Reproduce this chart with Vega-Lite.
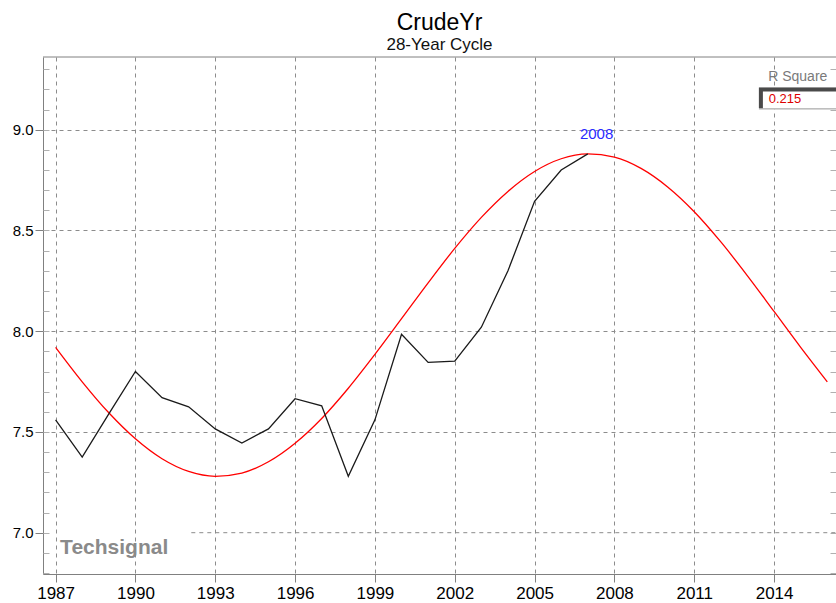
{
  "$schema": "https://vega.github.io/schema/vega-lite/v6.json",
  "width": 793,
  "height": 517,
  "autosize": "none",
  "padding": {"left": 43, "top": 57, "right": 0, "bottom": 29},
  "background": "white",
  "config": {"view": {"stroke": null}, "font": "Liberation Sans"},
  "title": {
    "text": "CrudeYr",
    "subtitle": "28-Year Cycle",
    "anchor": "middle",
    "font": "Liberation Sans",
    "fontSize": 23,
    "fontWeight": "normal",
    "color": "#000000",
    "subtitleFont": "Liberation Sans",
    "subtitleFontSize": 17,
    "subtitleColor": "#111111",
    "offset": 4,
    "subtitlePadding": 2
  },
  "datasets": {
    "actual": [
      {"year": 1987, "value": 7.56},
      {"year": 1988, "value": 7.375},
      {"year": 1989, "value": 7.59},
      {"year": 1990, "value": 7.80},
      {"year": 1991, "value": 7.67},
      {"year": 1992, "value": 7.625},
      {"year": 1993, "value": 7.515},
      {"year": 1994, "value": 7.445},
      {"year": 1995, "value": 7.515},
      {"year": 1996, "value": 7.665},
      {"year": 1997, "value": 7.63},
      {"year": 1998, "value": 7.28},
      {"year": 1999, "value": 7.56},
      {"year": 2000, "value": 7.985},
      {"year": 2001, "value": 7.845},
      {"year": 2002, "value": 7.852},
      {"year": 2003, "value": 8.02},
      {"year": 2004, "value": 8.30},
      {"year": 2005, "value": 8.645},
      {"year": 2006, "value": 8.80},
      {"year": 2007, "value": 8.88}
    ],
    "cycle": [
      {"year": 1987, "value": 7.920},
      {"year": 1988, "value": 7.749},
      {"year": 1989, "value": 7.595},
      {"year": 1990, "value": 7.466},
      {"year": 1991, "value": 7.367},
      {"year": 1992, "value": 7.304},
      {"year": 1993, "value": 7.280},
      {"year": 1994, "value": 7.296},
      {"year": 1995, "value": 7.352},
      {"year": 1996, "value": 7.444},
      {"year": 1997, "value": 7.567},
      {"year": 1998, "value": 7.717},
      {"year": 1999, "value": 7.885},
      {"year": 2000, "value": 8.062},
      {"year": 2001, "value": 8.240},
      {"year": 2002, "value": 8.411},
      {"year": 2003, "value": 8.565},
      {"year": 2004, "value": 8.694},
      {"year": 2005, "value": 8.793},
      {"year": 2006, "value": 8.856},
      {"year": 2007, "value": 8.880},
      {"year": 2008, "value": 8.864},
      {"year": 2009, "value": 8.808},
      {"year": 2010, "value": 8.716},
      {"year": 2011, "value": 8.593},
      {"year": 2012, "value": 8.443},
      {"year": 2013, "value": 8.275},
      {"year": 2014, "value": 8.098},
      {"year": 2015, "value": 7.920},
      {"year": 2016, "value": 7.749}
    ]
  },
  "resolve": {"axis": {"y": "independent"}},
  "layer": [
    {
      "data": {"name": "cycle"},
      "mark": {"type": "line", "color": "#ff0000", "strokeWidth": 1.3, "interpolate": "monotone"},
      "encoding": {
        "x": {
          "field": "year", "type": "quantitative",
          "scale": {"domain": [1986.527, 2016.327], "nice": false, "zero": false},
          "axis": {
            "title": null,
            "values": [1987, 1990, 1993, 1996, 1999, 2002, 2005, 2008, 2011, 2014],
            "format": "d",
            "labelFont": "Liberation Sans",
            "labelFontSize": 17,
            "labelColor": "#000000",
            "labelPadding": 3,
            "labelFlush": false,
            "labelOverlap": false,
            "tickSize": 8,
            "tickColor": "#808080",
            "domainColor": "#808080",
            "grid": true,
            "gridColor": "#8c8c8c",
            "gridDash": [4, 4],
            "gridWidth": 1
          }
        },
        "y": {
          "field": "value", "type": "quantitative",
          "scale": {"domain": [6.795, 9.361], "nice": false, "zero": false},
          "axis": {
            "title": null,
            "orient": "left",
            "values": [7.0, 7.5, 8.0, 8.5, 9.0],
            "format": ".1f",
            "labelFont": "Liberation Sans",
            "labelFontSize": 15,
            "labelColor": "#000000",
            "labelPadding": 2,
            "tickSize": 8,
            "tickColor": "#808080",
            "domainColor": "#808080",
            "grid": true,
            "gridColor": "#8c8c8c",
            "gridDash": [4, 4],
            "gridWidth": 1,
            "gridOpacity": {"condition": {"test": "datum.value === 7", "value": 0}, "value": 1}
          }
        }
      }
    },
    {
      "data": {"values": [{}]},
      "mark": {"type": "rule", "color": "#8c8c8c", "strokeDash": [4, 4], "strokeWidth": 1},
      "encoding": {
        "x": {"datum": 1992.1, "type": "quantitative"},
        "x2": {"datum": 2016.327},
        "y": {"datum": 7.0, "type": "quantitative", "axis": null}
      }
    },
    {
      "data": {"name": "actual"},
      "mark": {"type": "line", "color": "#1a1a1a", "strokeWidth": 1.3},
      "encoding": {
        "x": {"field": "year", "type": "quantitative"},
        "y": {
          "field": "value", "type": "quantitative",
          "axis": {
            "orient": "left",
            "title": null,
            "labels": false,
            "domain": false,
            "grid": false,
            "tickSize": -6,
            "tickColor": "#b0b0b0",
            "values": [6.8, 6.9, 7.0, 7.1, 7.2, 7.3, 7.4, 7.5, 7.6, 7.7, 7.8, 7.9, 8.0, 8.1, 8.2, 8.3, 8.4, 8.5, 8.6, 8.7, 8.8, 8.9, 9.0, 9.1, 9.2, 9.3]
          }
        }
      }
    },
    {
      "data": {"values": [{}]},
      "mark": {"type": "rule", "color": "#808080", "strokeWidth": 1},
      "encoding": {
        "y": {
          "datum": 9.361, "type": "quantitative",
          "axis": {
            "orient": "right",
            "title": null,
            "labels": false,
            "domain": false,
            "grid": false,
            "tickSize": -6,
            "tickColor": "#b0b0b0",
            "values": [6.8, 6.9, 7.0, 7.1, 7.2, 7.3, 7.4, 7.5, 7.6, 7.7, 7.8, 7.9, 8.0, 8.1, 8.2, 8.3, 8.4, 8.5, 8.6, 8.7, 8.8, 8.9, 9.0, 9.1, 9.2, 9.3]
          }
        }
      }
    },
    {
      "data": {"values": [{}]},
      "mark": {"type": "text", "text": "Techsignal", "font": "Liberation Sans", "fontSize": 21, "fontWeight": "bold", "color": "#8a8a8a", "align": "left", "baseline": "alphabetic"},
      "encoding": {
        "x": {"datum": 1987.17, "type": "quantitative"},
        "y": {"datum": 6.896, "type": "quantitative", "axis": null}
      }
    },
    {
      "data": {"values": [{}]},
      "mark": {"type": "text", "text": "2008", "font": "Liberation Sans", "fontSize": 15, "color": "#2a2aff", "align": "center", "baseline": "middle"},
      "encoding": {
        "x": {"datum": 2007.33, "type": "quantitative"},
        "y": {"datum": 8.98, "type": "quantitative", "axis": null}
      }
    },
    {
      "data": {"values": [{}]},
      "mark": {"type": "rect", "color": "#c8c8c8"},
      "encoding": {
        "x": {"datum": 2013.43, "type": "quantitative"},
        "x2": {"datum": 2016.327},
        "y": {"datum": 9.2097, "type": "quantitative", "axis": null},
        "y2": {"datum": 9.0993}
      }
    },
    {
      "data": {"values": [{}]},
      "mark": {"type": "rect", "color": "#4a4a4a"},
      "encoding": {
        "x": {"datum": 2013.43, "type": "quantitative"},
        "x2": {"datum": 2016.327},
        "y": {"datum": 9.2097, "type": "quantitative", "axis": null},
        "y2": {"datum": 9.1067}
      }
    },
    {
      "data": {"values": [{}]},
      "mark": {"type": "rect", "color": "#ffffff"},
      "encoding": {
        "x": {"datum": 2013.58, "type": "quantitative"},
        "x2": {"datum": 2016.327},
        "y": {"datum": 9.190, "type": "quantitative", "axis": null},
        "y2": {"datum": 9.1067}
      }
    },
    {
      "data": {"values": [{}]},
      "mark": {"type": "text", "text": "0.215", "font": "Liberation Sans", "fontSize": 13, "color": "#dd0000", "align": "left", "baseline": "alphabetic"},
      "encoding": {
        "x": {"datum": 2013.8, "type": "quantitative"},
        "y": {"datum": 9.1335, "type": "quantitative", "axis": null}
      }
    },
    {
      "data": {"values": [{}]},
      "mark": {"type": "text", "text": "R Square", "font": "Liberation Sans", "fontSize": 14, "color": "#7a7a7a", "align": "center", "baseline": "alphabetic"},
      "encoding": {
        "x": {"datum": 2014.89, "type": "quantitative"},
        "y": {"datum": 9.2397, "type": "quantitative", "axis": null}
      }
    }
  ]
}
